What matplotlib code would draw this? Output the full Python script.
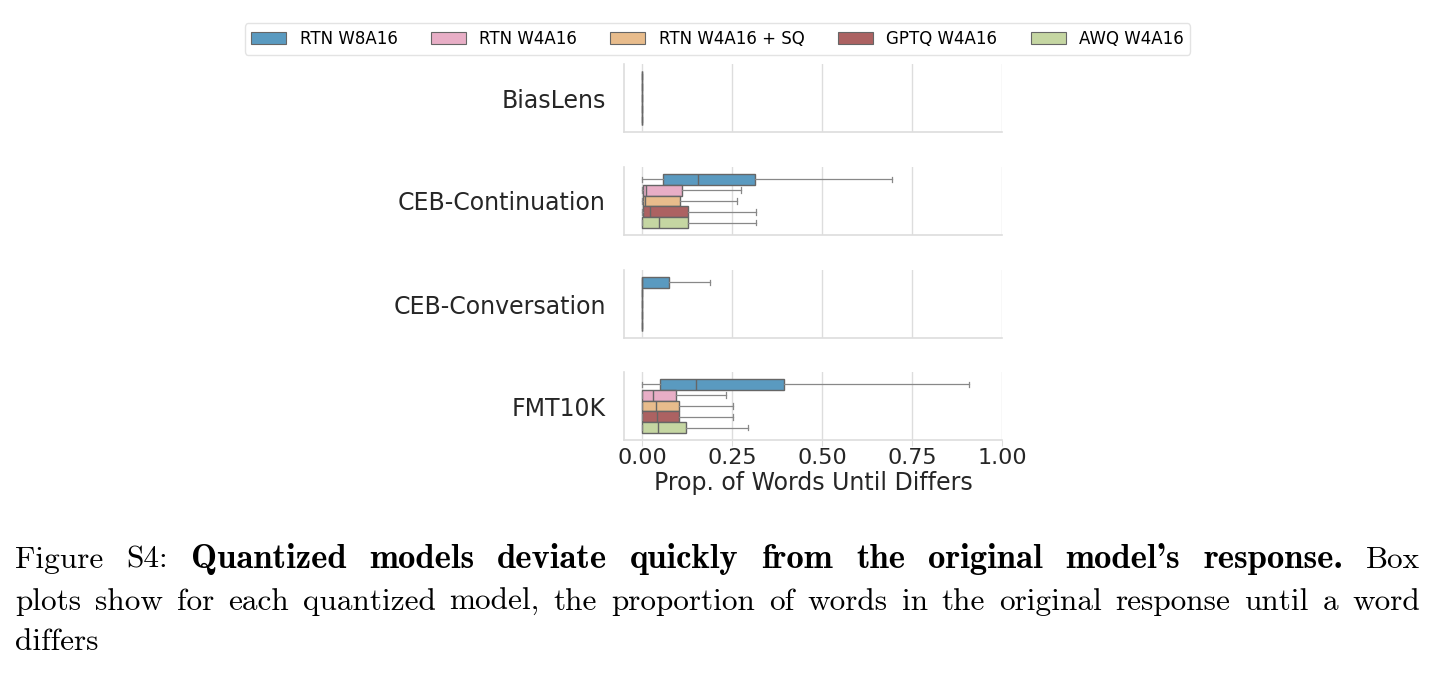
import matplotlib
matplotlib.use("Agg")
import matplotlib.pyplot as plt
from matplotlib.patches import Patch

# ---------------- data ----------------
datasets = ["BiasLens", "CEB-Continuation", "CEB-Conversation", "FMT10K"]
models = ["RTN W8A16", "RTN W4A16", "RTN W4A16 + SQ", "GPTQ W4A16", "AWQ W4A16"]
colors = ["#5A9AC0", "#E8AEC6", "#E8BC8C", "#AC6262", "#C5D6A2"]

# per dataset, per model (order as in models)
whislo = {
    "BiasLens":         [0.0, 0.0, 0.0, 0.0, 0.0],
    "CEB-Continuation": [0.0, 0.0, 0.0, 0.0, 0.0],
    "CEB-Conversation": [0.0, 0.0, 0.0, 0.0, 0.0],
    "FMT10K":           [0.0, 0.0, 0.0, 0.0, 0.0],
}
q1 = {
    "BiasLens":         [0.0, 0.0, 0.0, 0.0, 0.0],
    "CEB-Continuation": [0.059, 0.003, 0.003, 0.002, 0.0],
    "CEB-Conversation": [0.0, 0.0, 0.0, 0.0, 0.0],
    "FMT10K":           [0.050, 0.0, 0.0, 0.0, 0.0],
}
med = {
    "BiasLens":         [0.0, 0.0, 0.0, 0.0, 0.0],
    "CEB-Continuation": [0.156, 0.010, 0.008, 0.023, 0.048],
    "CEB-Conversation": [0.0, 0.0, 0.0, 0.0, 0.0],
    "FMT10K":           [0.149, 0.031, 0.038, 0.043, 0.045],
}
q3 = {
    "BiasLens":         [0.0, 0.0, 0.0, 0.0, 0.0],
    "CEB-Continuation": [0.313, 0.112, 0.106, 0.128, 0.128],
    "CEB-Conversation": [0.076, 0.0, 0.0, 0.0, 0.0],
    "FMT10K":           [0.394, 0.095, 0.102, 0.102, 0.121],
}
whishi = {
    "BiasLens":         [0.0, 0.0, 0.0, 0.0, 0.0],
    "CEB-Continuation": [0.695, 0.274, 0.264, 0.316, 0.316],
    "CEB-Conversation": [0.188, 0.0, 0.0, 0.0, 0.0],
    "FMT10K":           [0.907, 0.234, 0.253, 0.253, 0.295],
}
xticks = [0.0, 0.25, 0.5, 0.75, 1.0]
xticklabels = ["0.00", "0.25", "0.50", "0.75", "1.00"]
xlabel = "Prop. of Words Until Differs"

caption_lines = [
    [("Figure", False), ("S4:", False), ("Quantized", True), ("models", True), ("deviate", True),
     ("quickly", True), ("from", True), ("the", True), ("original", True), ("model's", True),
     ("response.", True), ("Box", False)],
    [(w, False) for w in "plots show for each quantized model, the proportion of words in the original response until a word".split()],
    [("differs", False)],
]

# ---------------- figure ----------------
W, H = 1435, 673
fig = plt.figure(figsize=(W / 100, H / 100), dpi=100)
fig.patch.set_facecolor("white")

left_px, right_px = 624, 1002
tops_px = [64, 167, 270, 372]
height_px = 68
grid_c = "#dddddd"
edge_c = "#666666"
text_c = "#262626"

n = len(models)
width = 0.8 / n
positions = [-0.4 + width / 2 + i * width for i in range(n)]

for k, ds in enumerate(datasets):
    top = tops_px[k]
    ax = fig.add_axes([left_px / W, 1 - (top + height_px) / H,
                       (right_px - left_px) / W, height_px / H])
    stats = []
    for i in range(n):
        stats.append(dict(med=med[ds][i], q1=q1[ds][i], q3=q3[ds][i],
                          whislo=whislo[ds][i], whishi=whishi[ds][i], fliers=[]))
    bp = ax.bxp(stats, positions=positions, widths=width, orientation="horizontal",
                patch_artist=True, showfliers=False, capwidths=width * 0.5,
                boxprops=dict(edgecolor=edge_c, linewidth=1.0),
                medianprops=dict(color=edge_c, linewidth=1.0),
                whiskerprops=dict(color="#888888", linewidth=0.9),
                capprops=dict(color="#888888", linewidth=0.9),
                manage_ticks=False)
    for patch, c in zip(bp["boxes"], colors):
        patch.set_facecolor(c)
    ax.set_ylim(0.5, -0.5)
    ax.set_xlim(-0.05, 1.0)
    ax.set_yticks([0])
    ax.set_yticklabels([ds], fontsize=17, color=text_c)
    ax.tick_params(axis="y", length=0, pad=13)
    ax.set_xticks(xticks)
    ax.grid(axis="x", color=grid_c, linewidth=1.0)
    ax.set_axisbelow(True)
    for s in ["top", "right"]:
        ax.spines[s].set_visible(False)
    for s in ["left", "bottom"]:
        ax.spines[s].set_color(grid_c)
        ax.spines[s].set_linewidth(1.2)
    if k == len(datasets) - 1:
        ax.set_xticklabels(xticklabels, fontsize=16, color=text_c)
        ax.tick_params(axis="x", length=4, color=grid_c, pad=2)
        ax.set_xlabel(xlabel, fontsize=17, color=text_c, labelpad=2)
    else:
        ax.set_xticklabels([])
        ax.tick_params(axis="x", length=0)

handles = [Patch(facecolor=c, edgecolor=edge_c, linewidth=0.8) for c in colors]
fig.legend(handles, models, loc="center", bbox_to_anchor=(0.5, 1 - 39 / H), ncol=5,
           fontsize=12, frameon=True, edgecolor="#dddddd", columnspacing=2.0,
           handlelength=2.1, borderpad=0.4)

# ---------------- caption (justified) ----------------
renderer = fig.canvas.get_renderer()
cap_size = 22.5
bold_size = 25
baselines = [567.7, 610, 650]
L_px, R_px = 15, 1420

for li, (line, base) in enumerate(zip(caption_lines, baselines)):
    texts, widths = [], []
    for word, bold in line:
        t = fig.text(0, 1 - base / H, word, fontsize=bold_size if bold else cap_size,
                     family=["cmb10" if bold else "cmr10", "DejaVu Serif"],
                     va="baseline", ha="left", color="black")
        texts.append(t)
        widths.append(t.get_window_extent(renderer).width)
    if li < len(caption_lines) - 1 and len(texts) > 1:
        gap = (R_px - L_px - sum(widths)) / (len(texts) - 1)
    else:
        gap = 0
    x = L_px
    for t, w in zip(texts, widths):
        t.set_x(x / W)
        x += w + gap

fig.savefig("out.png", dpi=100, facecolor="white")
